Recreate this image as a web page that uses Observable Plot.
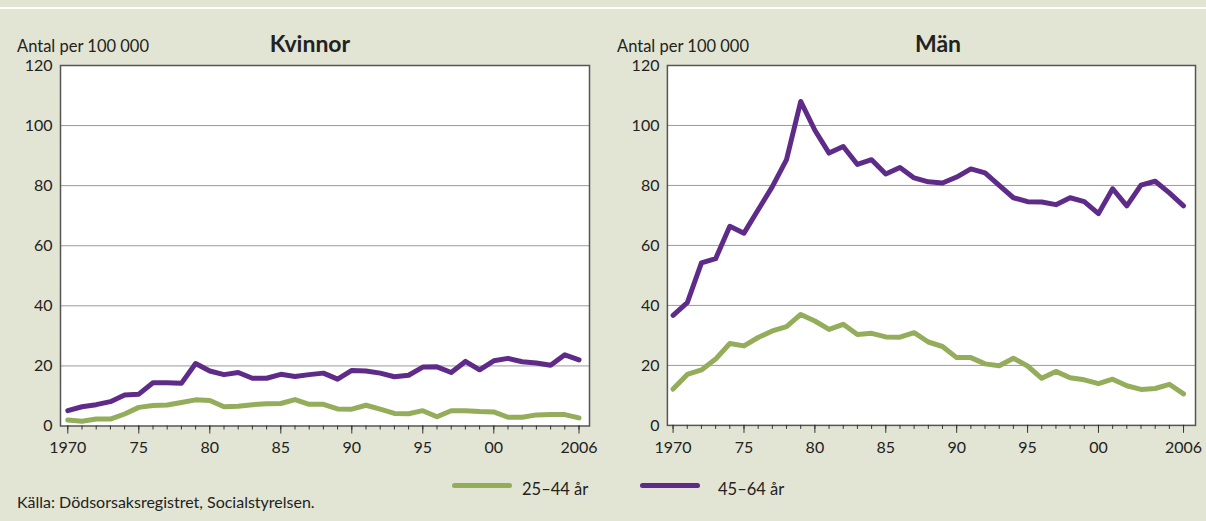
<!DOCTYPE html>
<html>
<head>
<meta charset="utf-8">
<script src="https://cdn.jsdelivr.net/npm/d3@7"></script>
<script src="https://cdn.jsdelivr.net/npm/@observablehq/plot@0.6"></script>
<style>
  html, body { margin: 0; padding: 0; }
  #root { position: relative; width: 1206px; height: 521px; background: #e2e5d3; overflow: hidden; font-family: Lato, "Open Sans", sans-serif; color: #222; }
  .abs { position: absolute; white-space: nowrap; }
</style>
</head>
<body>
<div id="root">
  <div class="abs" style="left:0;top:7px;width:1206px;height:2px;background:#fff"></div>
  <div class="abs" style="left:17px;top:35px;font-size:16.5px;line-height:22px">Antal per 100 000</div>
  <div class="abs" style="left:210px;top:29px;width:200px;text-align:center;font-size:23px;line-height:28px;font-weight:bold">Kvinnor</div>
  <div class="abs" style="left:617px;top:35px;font-size:16.5px;line-height:22px">Antal per 100 000</div>
  <div class="abs" style="left:838px;top:29px;width:200px;text-align:center;font-size:23px;line-height:28px;font-weight:bold">Män</div>
  <div id="p1" class="abs" style="left:0;top:55px"></div>
  <div id="p2" class="abs" style="left:607px;top:55px"></div>
  <div id="legend"></div>
  <div class="abs" style="left:17px;top:491px;font-size:16px;line-height:22px">Källa: Dödsorsaksregistret, Socialstyrelsen.</div>
</div>
<script>
const years = [1970,1971,1972,1973,1974,1975,1976,1977,1978,1979,
               1980,1981,1982,1983,1984,1985,1986,1987,1988,1989,
               1990,1991,1992,1993,1994,1995,1996,1997,1998,1999,
               2000,2001,2002,2003,2004,2005,2006];
const majorYears = [1970,1975,1980,1985,1990,1995,2000,2006];
const yTicks = [0,20,40,60,80,100,120];
const seriesNames = ["25–44 år", "45–64 år"];
const seriesColors = ["#94ad5b", "#5f2b88"];

const kvinnor2544 = [2.0,1.6,2.3,2.3,4.0,6.2,6.8,7.0,7.8,8.7,
                     8.5,6.4,6.6,7.1,7.4,7.5,8.8,7.2,7.2,5.7,
                     5.6,6.9,5.6,4.2,4.1,5.1,3.1,5.1,5.1,4.8,
                     4.7,2.9,2.9,3.7,3.8,3.8,2.7];
const kvinnor4564 = [5.1,6.4,7.1,8.1,10.3,10.6,14.4,14.4,14.2,20.8,
                     18.3,17.1,17.8,15.9,15.9,17.2,16.5,17.1,17.6,15.6,
                     18.5,18.3,17.6,16.4,16.9,19.6,19.7,17.8,21.5,18.7,
                     21.7,22.5,21.4,21.0,20.2,23.7,22.0];
const man2544 = [12.1,17.0,18.5,22.1,27.3,26.5,29.3,31.5,32.9,37.0,
                 34.8,32.0,33.7,30.3,30.7,29.5,29.4,30.9,27.8,26.3,
                 22.6,22.6,20.5,19.9,22.4,19.8,15.7,18.0,15.9,15.2,
                 13.9,15.4,13.2,12.0,12.3,13.7,10.5];
const man4564 = [36.7,40.9,54.2,55.6,66.4,64.1,71.9,79.6,88.6,108.0,
                 98.4,90.8,93.0,87.0,88.6,83.8,86.0,82.5,81.2,80.8,
                 82.8,85.5,84.2,80.0,75.9,74.6,74.5,73.6,75.9,74.6,
                 70.6,78.9,73.2,80.1,81.4,77.5,73.2];

function fmtYear(y) {
  if (y === 1970 || y === 2006) return String(y);
  return String(y % 100).padStart(2, "0");
}

function panel(a, b, insetLeft, insetRight) {
  const dA = years.map((y, i) => ({year: y, v: a[i]}));
  const dB = years.map((y, i) => ({year: y, v: b[i]}));
  return Plot.plot({
    width: 600, height: 410,
    marginLeft: 60, marginRight: 11, marginTop: 10, marginBottom: 39.5,
    style: {background: "transparent", fontFamily: "Lato, 'Open Sans', sans-serif", fontSize: "16px", color: "#222", overflow: "visible"},
    x: {domain: [1970, 2006], insetLeft, insetRight},
    y: {domain: [0, 120]},
    marks: [
      Plot.frame({fill: "white", stroke: null}),
      Plot.gridY([20, 40, 60, 80, 100], {stroke: "#9a9a9a", strokeOpacity: 1, strokeWidth: 1}),
      Plot.line(dA, {x: "year", y: "v", stroke: seriesColors[0], strokeWidth: 5, strokeLinejoin: "round", strokeLinecap: "round"}),
      Plot.line(dB, {x: "year", y: "v", stroke: seriesColors[1], strokeWidth: 5, strokeLinejoin: "round", strokeLinecap: "round"}),
      Plot.frame({stroke: "#555", strokeWidth: 1.5}),
      Plot.axisY(yTicks, {tickSize: 0, tickPadding: 8, label: null, fill: "#222", fontSize: 16}),
      Plot.axisX(years, {tickSize: 4, tickFormat: () => "", label: null, stroke: "#333"}),
      Plot.axisX(majorYears, {tickSize: 8, tickPadding: 8, tickFormat: fmtYear, label: null, stroke: "#333", fill: "#222", fontSize: 16})
    ]
  });
}

document.getElementById("p1").appendChild(panel(kvinnor2544, kvinnor4564, 7.3, 10.5));
document.getElementById("p2").appendChild(panel(man2544, man4564, 5.7, 12));

const legend = document.getElementById("legend");
const legendPos = [[452, 522], [640, 718]];
seriesNames.forEach((name, i) => {
  const sw = document.createElement("div");
  sw.className = "abs";
  sw.style.cssText = `left:${legendPos[i][0]}px;top:482.5px;width:60px;height:5px;border-radius:3px;background:${seriesColors[i]}`;
  legend.appendChild(sw);
  const t = document.createElement("div");
  t.className = "abs";
  t.style.cssText = `left:${legendPos[i][1]}px;top:478px;font-size:16.5px;line-height:22px`;
  t.textContent = name;
  legend.appendChild(t);
});
</script>
</body>
</html>
